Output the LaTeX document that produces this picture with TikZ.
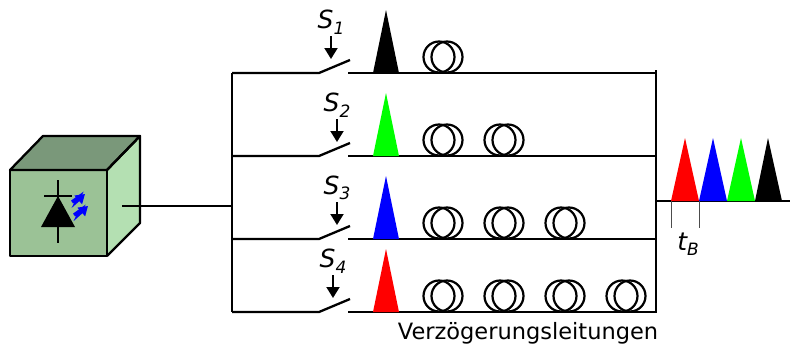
\documentclass[tikz,border=0pt]{standalone}
\usepackage{fontspec}
\setmainfont{DejaVu Sans}
\usetikzlibrary{arrows.meta}
\definecolor{cubefront}{RGB}{155,194,150}
\definecolor{cubetop}{RGB}{122,152,122}
\definecolor{cubeside}{RGB}{180,224,178}
\definecolor{pulsegreen}{RGB}{0,255,0}
\begin{document}
\begin{tikzpicture}[x=1pt,y=-1pt,
  wire/.style={line width=2.3pt},
  face/.style={draw=black,line width=2.3pt,line join=round},
  coilring/.style={draw=black,line width=2.2pt},
  trigger/.style={line width=1.9pt,-{Triangle[length=11pt,width=13pt]}},
  lbl/.style={inner sep=0pt,font=\fontsize{25}{25}\selectfont\itshape},
  bolt/.style={draw=blue,line width=3.4pt,line join=miter,-{Triangle[length=9pt,width=11pt]}},
  tick/.style={draw=black!70,line width=0.8pt}]
\useasboundingbox (0,0) rectangle (793,351);

% photodiode source as a cube
\fill[cubetop] (10,170) -- (43,136) -- (140,136) -- (107,170) -- cycle;
\fill[cubeside] (107,170) -- (140,136) -- (140,223) -- (107,256) -- cycle;
\fill[cubefront] (10,170) rectangle (107,256);
\draw[face] (10,170) -- (43,136) -- (140,136) -- (107,170) -- cycle;
\draw[face] (107,170) -- (140,136) -- (140,223) -- (107,256);
\draw[face] (10,170) rectangle (107,256);
% diode symbol
\draw[wire] (58,180) -- (58,243);
\draw[wire] (44,196) -- (72,196);
\fill (41,227) -- (75,227) -- (58,196) -- cycle;
% emitted light
\draw[bolt] (72,202) -- (79,197) -- (77,201) -- (85,194);
\draw[bolt] (74,215) -- (81,210) -- (79,214) -- (88,206);

% feed line and splitter bus
\coordinate (src) at (122,206);
\coordinate (bustop) at (232,73);
\coordinate (busbot) at (232,312);
\coordinate (busfeed) at (232,206);
\draw[wire] (src) -- (busfeed);
\draw[wire] (bustop) -- (busbot);

% combiner bus and output
\coordinate (comtop) at (656,70);
\coordinate (combot) at (656,313);
\coordinate (comout) at (656,201);
\coordinate (outend) at (790,201);
\draw[wire] (comtop) -- (combot);
\draw[wire] (comout) -- (outend);

% branches: y, label x, label, pulse colour, number of delay coils
\foreach \y/\ax/\s/\col/\n in {73/331/1/black/1, 156/337/2/pulsegreen/2, 239/337/3/blue/3, 312/333/4/red/4}{
  \coordinate (swa) at (232,\y);
  \coordinate (swb) at (319,\y);
  \coordinate (swc) at (350,\y-13);
  \coordinate (lna) at (348,\y);
  \coordinate (lnb) at (656,\y);
  \draw[wire] (swa) -- (swb) -- (swc);
  \draw[wire] (lna) -- (lnb);
  \coordinate (arra) at (\ax,\y-37);
  \coordinate (arrb) at (\ax,\y-14);
  \draw[trigger] (arra) -- (arrb);
  \node[lbl] (lab\s) at (\ax,\y-51) {S\raisebox{-0.4ex}{\fontsize{17}{17}\selectfont\itshape\s}};
  \fill[\col] (373,\y) -- (399,\y) -- (386,\y-63) -- cycle;
  \foreach \k in {1,...,\n}{
    \pgfmathsetmacro{\cx}{423+61*(\k-1)}
    \draw[coilring] (\cx+16,\y-16) circle[radius=15.5pt];
    \draw[coilring] (\cx+24,\y-16) circle[radius=15.5pt];
  }
}

% time-multiplexed output pulses
\fill[red] (671,201) -- (699,201) -- (685,138) -- cycle;
\fill[blue] (699,201) -- (727,201) -- (713,138) -- cycle;
\fill[pulsegreen] (727,201) -- (755,201) -- (741,138) -- cycle;
\fill[black] (755,201) -- (782,201) -- (768,138) -- cycle;
\draw[tick] (671,201) -- (671,228);
\draw[tick] (699,201) -- (699,228);
\node[lbl] (tb) at (688,244) {t\raisebox{-0.4ex}{\fontsize{17}{17}\selectfont\itshape B}};

\node[inner sep=0pt,font=\fontsize{22.5}{22.5}\selectfont] (caption) at (528,333) {Verzögerungsleitungen};
\end{tikzpicture}
\end{document}
